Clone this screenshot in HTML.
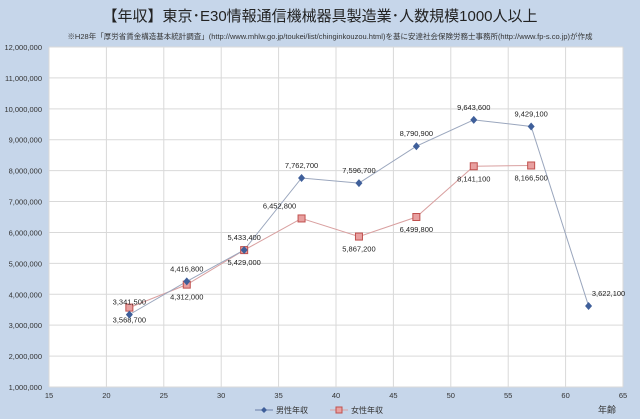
<!DOCTYPE html>
<html><head><meta charset="utf-8"><style>
body{margin:0;background:#c6d6ea;}
svg{display:block;font-family:"Liberation Sans","Noto Sans CJK JP",sans-serif;}
</style></head><body>
<svg id="c" width="640" height="419">
<rect x="0" y="0" width="640" height="419" fill="#c6d6ea"/>
<text x="320" y="21" text-anchor="middle" font-size="15" fill="#222">【年収】東京･E30情報通信機械器具製造業･人数規模1000人以上</text>
<text x="330" y="39" text-anchor="middle" font-size="7.5" fill="#333">※H28年「厚労省賃金構造基本統計調査」(http://www.mhlw.go.jp/toukei/list/chinginkouzou.html)を基に安達社会保険労務士事務所(http://www.fp-s.co.jp)が作成</text>
<rect x="49" y="47" width="574" height="340" fill="#fff"/>
<g id="grid"></g><g id="series"></g>
<text x="598" y="413" font-size="9" fill="#333">年齢</text>
<g><line x1="255" y1="410" x2="273" y2="410" stroke="#6b7fa8"/><path d="M264 407 L267 410 L264 413 L261 410Z" fill="#3f5f9a"/><text x="276" y="413" font-size="8" fill="#333">男性年収</text></g>
<g><line x1="330" y1="410" x2="348" y2="410" stroke="#d9a0a0"/><rect x="336" y="407" width="6" height="6" fill="#e8a0a0" stroke="#c0504d"/><text x="351" y="413" font-size="8" fill="#333">女性年収</text></g>
</svg>
<script>
const ages=[22,27,32,37,42,47,52,57,62];
const male=[3341500,4416800,5433400,7762700,7596700,8790900,9643600,9429100,3622100];
const female=[3568700,4312000,5429000,6452800,5867200,6499800,8141100,8166500];
const maleLabels=["3,341,500","4,416,800","5,433,400","7,762,700","7,596,700","8,790,900","9,643,600","9,429,100","3,622,100"];
const femaleLabels=["3,568,700","4,312,000","5,429,000","6,452,800","5,867,200","6,499,800","8,141,100","8,166,500"];
const xTicks=[15,20,25,30,35,40,45,50,55,60,65];
const yTicks=[1,2,3,4,5,6,7,8,9,10,11,12];
const NS="http://www.w3.org/2000/svg";
const X=v=>49+(v-15)*574/50;
const Y=v=>387-(v-1000000)*340/11000000;
function mk(t,a,p){const e=document.createElementNS(NS,t);for(const k in a)e.setAttribute(k,a[k]);p.appendChild(e);return e;}
const g=document.getElementById('grid'),s=document.getElementById('series');
yTicks.forEach(t=>{const v=t*1000000;
 const l=mk('line',{x1:49,x2:623,y1:Y(v),y2:Y(v),stroke:'#d9d9d9'},g);
 
 
 const tx=mk('text',{x:42,y:Y(v)+3,'text-anchor':'end','font-size':7.5,fill:'#333'},g);
 
 
 tx.textContent=v.toLocaleString('en-US');});
xTicks.forEach(t=>{
 const l=mk('line',{x1:X(t),x2:X(t),y1:47,y2:387,stroke:'#d9d9d9'},g);
 
 
 const tx=mk('text',{x:X(t),y:398,'text-anchor':'middle','font-size':7.5,fill:'#333'},g);
 
 
 tx.textContent=t;});
const fl=mk('polyline',{points:female.map((v,i)=>X(ages[i])+','+Y(v)).join(' '),fill:'none',stroke:'#d9a0a0','stroke-width':1},s);


const ml=mk('polyline',{points:male.map((v,i)=>X(ages[i])+','+Y(v)).join(' '),fill:'none',stroke:'#9aa6bd','stroke-width':1},s);


female.forEach((v,i)=>{const x=X(ages[i]),y=Y(v);
 const r=mk('rect',{x:x-3.5,y:y-3.5,width:7,height:7,fill:'#e8a0a0',stroke:'#c0504d'},s);
 
 
 const t=mk('text',{x:i==3?x-22:x,y:i==3?y-10:y+15,'text-anchor':'middle','font-size':7.5,fill:'#222'},s);
 
 
 t.textContent=femaleLabels[i];});
male.forEach((v,i)=>{const x=X(ages[i]),y=Y(v);
 const p=mk('path',{d:`M${x} ${y-4}L${x+3.5} ${y}L${x} ${y+4}L${x-3.5} ${y}Z`,fill:'#3f5f9a'},s);
 
 
 let lx=x,ly=y-10;
 if(i==8){lx=x+20;ly=y-10;}
 const t=mk('text',{x:lx,y:ly,'text-anchor':'middle','font-size':7.5,fill:'#222'},s);
 
 
 t.textContent=maleLabels[i];});
</script>
</body></html>
